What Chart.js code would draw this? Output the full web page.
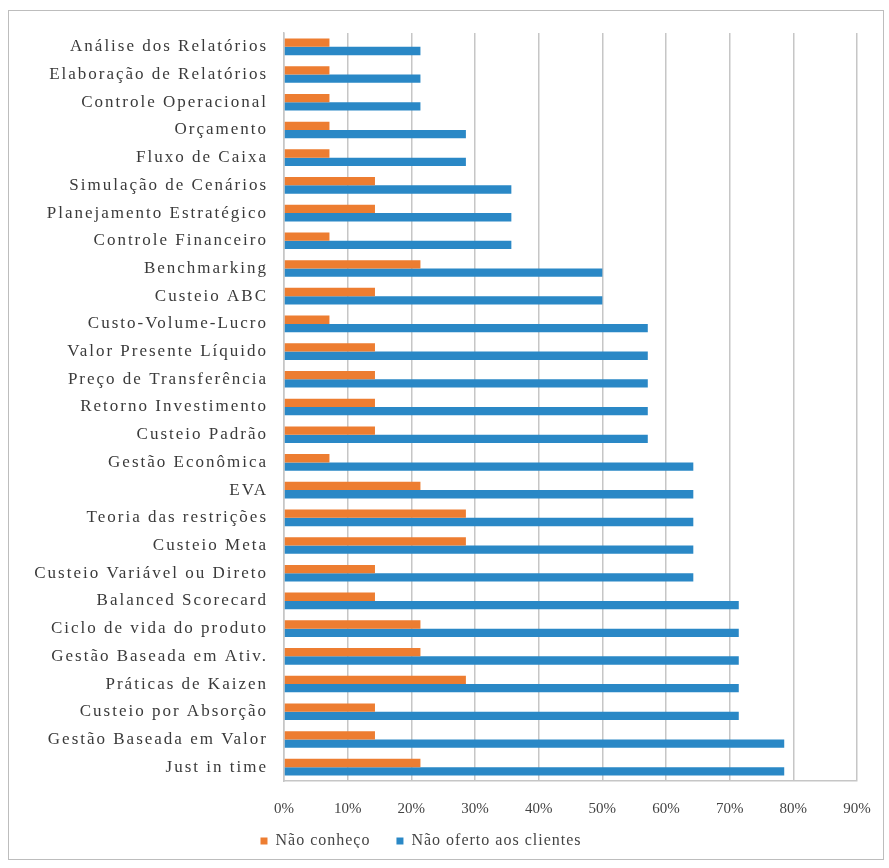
<!DOCTYPE html>
<html>
<head>
<meta charset="utf-8">
<script src="https://cdn.jsdelivr.net/npm/chart.js@4.4.0/dist/chart.umd.min.js"></script>
<style>
    html, body { margin: 0; padding: 0; background: #fff; }
    #box {
        position: absolute;
        left: 8px; top: 10px;
        width: 874px; height: 848px;
        border: 1px solid #bdbdbd;
        background: #fff;
    }
</style>
</head>
<body>
<div id="box"><canvas id="chart"></canvas></div>
<script>
// Categorias (de cima para baixo)
const categories = [
    "Análise dos Relatórios", "Elaboração de Relatórios", "Controle Operacional",
    "Orçamento", "Fluxo de Caixa", "Simulação de Cenários",
    "Planejamento Estratégico", "Controle Financeiro", "Benchmarking",
    "Custeio ABC", "Custo-Volume-Lucro", "Valor Presente Líquido",
    "Preço de Transferência", "Retorno Investimento", "Custeio Padrão",
    "Gestão Econômica", "EVA", "Teoria das restrições", "Custeio Meta",
    "Custeio Variável ou Direto", "Balanced Scorecard", "Ciclo de vida do produto",
    "Gestão Baseada em Ativ.", "Práticas de Kaizen", "Custeio por Absorção",
    "Gestão Baseada em Valor", "Just in time"
];

// % Não conheço
const naoConheco = [
    7.14, 7.14, 7.14, 7.14, 7.14, 14.29, 14.29, 7.14, 21.43,
    14.29, 7.14, 14.29, 14.29, 14.29, 14.29, 7.14, 21.43, 28.57,
    28.57, 14.29, 14.29, 21.43, 21.43, 28.57, 14.29, 14.29, 21.43
];

// % Não oferto aos clientes
const naoOferto = [
    21.43, 21.43, 21.43, 28.57, 28.57, 35.71, 35.71, 35.71, 50,
    50, 57.14, 57.14, 57.14, 57.14, 57.14, 64.29, 64.29, 64.29,
    64.29, 64.29, 71.43, 71.43, 71.43, 71.43, 71.43, 78.57, 78.57
];

const xTicks = [0, 10, 20, 30, 40, 50, 60, 70, 80, 90];

const serif = "'Liberation Serif', 'DejaVu Serif', serif";

// wrap a box method so its text gets some letter spacing (scan looks wide)
function spaced(obj, name, spacing, dx, dy) {
    const orig = obj[name];
    obj[name] = function () {
        const ctx = this.ctx;
        ctx.save();
        ctx.letterSpacing = spacing;
        if (dx || dy) ctx.translate(dx || 0, dy || 0);
        const r = orig.apply(this, arguments);
        ctx.restore();
        return r;
    };
}

const spacingPlugin = {
    id: "spacing",
    beforeLayout(chart) {
        if (chart.scales.y && !chart.scales.y._spaced) {
            spaced(chart.scales.y, "draw", "2px");
            chart.scales.y._spaced = true;
        }
        if (chart.legend && !chart.legend._spaced) {
            spaced(chart.legend, "fit", "1px");
            spaced(chart.legend, "draw", "1px", -12, -11);
            chart.legend._spaced = true;
        }
    }
};

new Chart(document.getElementById("chart"), {
    type: "bar",
    data: {
        labels: categories,
        datasets: [
            {
                label: "Não conheço",
                data: naoConheco,
                backgroundColor: "#ED7D31",
                categoryPercentage: 0.6,
                barPercentage: 1.0
            },
            {
                label: "Não oferto aos clientes",
                data: naoOferto,
                backgroundColor: "#2A88C6",
                categoryPercentage: 0.6,
                barPercentage: 1.0
            }
        ]
    },
    plugins: [spacingPlugin],
    options: {
        indexAxis: "y",
        responsive: true,
        maintainAspectRatio: false,
        animation: false,
        layout: { padding: { top: 22, right: 26, left: 0, bottom: 0 } },
        scales: {
            x: {
                min: xTicks[0],
                max: xTicks[xTicks.length - 1],
                afterBuildTicks: (axis) => { axis.ticks = xTicks.map(v => ({ value: v })); },
                afterFit: (axis) => {
                    axis.height = 37;
                    axis.paddingLeft = 0;
                    axis.paddingRight = 0;
                },
                grid: { color: "#c6c6c6", lineWidth: 1.5, drawTicks: false },
                border: { color: "#c6c6c6", width: 1.5 },
                ticks: {
                    padding: 19,
                    color: "#444",
                    font: { family: serif, size: 15 },
                    callback: (v) => v + "%"
                }
            },
            y: {
                afterFit: (axis) => {
                    axis.width = 275;
                    axis.paddingTop = 0;
                    axis.paddingBottom = 0;
                },
                grid: { display: false, drawTicks: false },
                border: { color: "#c6c6c6", width: 1.5 },
                ticks: {
                    padding: 16,
                    color: "#3a3a3a",
                    autoSkip: false,
                    font: { family: serif, size: 17 }
                }
            }
        },
        plugins: {
            legend: {
                position: "bottom",
                maxHeight: 41,
                labels: {
                    boxWidth: 7,
                    boxHeight: 7,
                    padding: 26,
                    color: "#444",
                    font: { family: serif, size: 16 }
                }
            },
            tooltip: { enabled: false }
        }
    }
});
</script>
</body>
</html>
